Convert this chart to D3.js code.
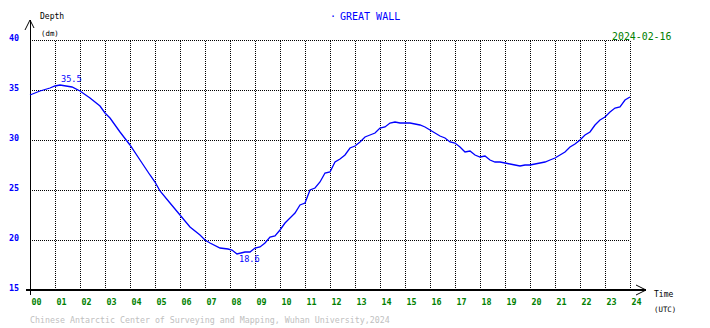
<!DOCTYPE html>
<html>
<head>
<meta charset="utf-8">
<script src="https://cdn.jsdelivr.net/npm/d3@7"></script>
<style>
  body { margin: 0; background: #fff; }
  svg { display: block; font-family: "DejaVu Sans Mono", monospace; }
  .grid line { stroke: #000; stroke-dasharray: 1,1; shape-rendering: crispEdges; }
  .grid path { display: none; }
</style>
</head>
<body>
<div id="chart"></div>
<script>
// tide record, hours UTC and depth in dm
var hours = [0, 0.4, 0.8, 1.0, 1.2, 1.68, 2.0, 2.4, 2.8, 3.0, 3.2, 3.6, 4.0, 4.4, 4.8, 5.0, 5.2, 5.6, 6.0, 6.4, 6.8, 7.0, 7.2, 7.6, 7.92,
  8.08, 8.28, 8.6, 8.8, 9.0, 9.2, 9.4, 9.6, 9.8, 10.0, 10.2, 10.4, 10.6, 10.8, 11.0, 11.2, 11.4, 11.6, 11.8, 12.0, 12.2, 12.4, 12.6,
  12.8, 13.0, 13.2, 13.4, 13.6, 13.8, 14.0, 14.2, 14.4, 14.6, 14.8, 15.0, 15.2, 15.4, 15.6, 15.8, 16.0, 16.2, 16.4, 16.6, 16.8, 17.0,
  17.2, 17.4, 17.6, 17.8, 18.0, 18.2, 18.4, 18.6, 18.8, 19.0, 19.2, 19.4, 19.6, 19.8, 20.0, 20.2, 20.4, 20.6, 20.8, 21.0, 21.2, 21.4,
  21.6, 21.8, 22.0, 22.2, 22.4, 22.6, 22.8, 23.0, 23.2, 23.4, 23.6, 23.8, 24.0];
var depth = [34.5, 34.9, 35.2, 35.4, 35.5, 35.3, 34.9, 34.2, 33.4, 32.7, 32.2, 30.8, 29.5, 28.0, 26.5, 25.8, 24.9, 23.7, 22.5, 21.3, 20.5, 20.0, 19.7, 19.2, 19.1,
  19.0, 18.6, 18.8, 18.8, 19.2, 19.3, 19.7, 20.3, 20.4, 21.0, 21.7, 22.2, 22.7, 23.5, 23.7, 25.0, 25.2, 25.8, 26.7, 26.8, 27.8, 28.1, 28.5,
  29.2, 29.4, 29.8, 30.3, 30.5, 30.7, 31.2, 31.3, 31.7, 31.8, 31.7, 31.7, 31.7, 31.6, 31.5, 31.3, 31.0, 30.7, 30.4, 30.2, 29.8, 29.7,
  29.3, 28.8, 28.9, 28.5, 28.3, 28.4, 28.0, 27.8, 27.8, 27.7, 27.6, 27.5, 27.4, 27.5, 27.5, 27.6, 27.7, 27.8, 28.0, 28.2, 28.5, 28.8,
  29.3, 29.6, 30.0, 30.5, 30.8, 31.5, 32.0, 32.3, 32.8, 33.2, 33.3, 34.0, 34.3];
var hourTicks = d3.range(0, 25);
var depthTicks = [15, 20, 25, 30, 35, 40];

var width = 710;
var height = 328;

var svg = d3.select('#chart').append('svg')
  .attr('width', width)
  .attr('height', height);

var xScale = d3.scaleLinear().domain([0, 24]).range([30, 630]);
var yScale = d3.scaleLinear().domain([15, 40]).range([290, 40]);

// dotted grid
svg.append('g')
  .attr('class', 'grid')
  .attr('transform', 'translate(0,290)')
  .call(d3.axisBottom(xScale).tickValues(hourTicks.slice(1)).tickSize(-250).tickFormat(''));

svg.append('g')
  .attr('class', 'grid')
  .attr('transform', 'translate(30,0)')
  .call(d3.axisLeft(yScale).tickValues(depthTicks.slice(1)).tickSize(-600).tickFormat(''));

// tick labels
var xLabels = svg.append('g')
  .attr('transform', 'translate(0,290)')
  .call(d3.axisBottom(xScale).tickValues(hourTicks).tickSize(0).tickFormat(d3.format('02d')));
xLabels.select('.domain').remove();
xLabels.selectAll('text')
  .attr('x', 1)
  .attr('y', 12)
  .attr('dy', '0.32em')
  .attr('text-anchor', 'start')
  .style('font-family', '"DejaVu Sans Mono", monospace')
  .style('font-size', '8.4px')
  .style('font-weight', 'bold')
  .style('fill', '#008000');

var yLabels = svg.append('g')
  .attr('transform', 'translate(30,0)')
  .call(d3.axisLeft(yScale).tickValues(depthTicks).tickSize(0));
yLabels.select('.domain').remove();
yLabels.selectAll('text')
  .attr('x', -11)
  .attr('y', -2)
  .style('font-family', '"DejaVu Sans Mono", monospace')
  .style('font-size', '8.4px')
  .style('font-weight', 'bold')
  .style('fill', '#0000ff');

// axes with arrows
svg.append('line')
  .attr('x1', 30).attr('x2', 30).attr('y1', 20).attr('y2', 295)
  .style('stroke', '#000').style('shape-rendering', 'crispEdges');
svg.append('path')
  .attr('d', 'M25,30L30,20L34,28')
  .style('fill', 'none').style('stroke', '#000');
svg.append('line')
  .attr('x1', 26).attr('x2', 646).attr('y1', 290).attr('y2', 290)
  .style('stroke', '#000').style('stroke-width', 1.4).style('shape-rendering', 'crispEdges');
svg.append('path')
  .attr('d', 'M636,285L646,290L636,295')
  .style('fill', 'none').style('stroke', '#000');

// tide curve
var line = d3.line()
  .x(function(d, i) { return xScale(hours[i]); })
  .y(function(d) { return yScale(d); });

svg.append('path')
  .datum(depth)
  .attr('d', line)
  .style('fill', 'none')
  .style('stroke', '#0000ff')
  .style('stroke-width', 1.3);

// max / min labels
var iMax = d3.maxIndex(depth);
var iMin = d3.minIndex(depth);
svg.append('text')
  .attr('x', xScale(hours[iMax]) + 1)
  .attr('y', yScale(depth[iMax]) - 3)
  .style('font-size', '8.6px')
  .style('fill', '#0000ff')
  .text(d3.format('.1f')(depth[iMax]));
svg.append('text')
  .attr('x', xScale(hours[iMin]) + 2)
  .attr('y', yScale(depth[iMin]) + 8)
  .style('font-size', '8.6px')
  .style('fill', '#0000ff')
  .text(d3.format('.1f')(depth[iMin]));

// titles
svg.append('text').attr('x', 330).attr('y', 17).attr('dy', '0.32em')
  .style('font-size', '10px').style('fill', '#0000ff').text('·');
svg.append('text').attr('x', 340).attr('y', 17).attr('dy', '0.32em')
  .style('font-size', '10px').style('fill', '#0000ff').text('GREAT WALL');
svg.append('text').attr('x', 612).attr('y', 37).attr('dy', '0.32em')
  .style('font-size', '9.9px').style('fill', '#008000').text('2024-02-16');

svg.append('text').attr('x', 40).attr('y', 16).attr('dy', '0.32em')
  .style('font-size', '8px').style('fill', '#000').text('Depth');
svg.append('text').attr('x', 41).attr('y', 34).attr('dy', '0.32em')
  .style('font-size', '7.4px').style('fill', '#000').text('(dm)');
svg.append('text').attr('x', 654).attr('y', 294).attr('dy', '0.32em')
  .style('font-size', '8px').style('fill', '#000').text('Time');
svg.append('text').attr('x', 654).attr('y', 310).attr('dy', '0.32em')
  .style('font-size', '7.4px').style('fill', '#000').text('(UTC)');

svg.append('text').attr('x', 30).attr('y', 320).attr('dy', '0.32em')
  .style('font-size', '8.3px').style('fill', '#c0c0c0')
  .text('Chinese Antarctic Center of Surveying and Mapping, Wuhan University,2024');
</script>
</body>
</html>
